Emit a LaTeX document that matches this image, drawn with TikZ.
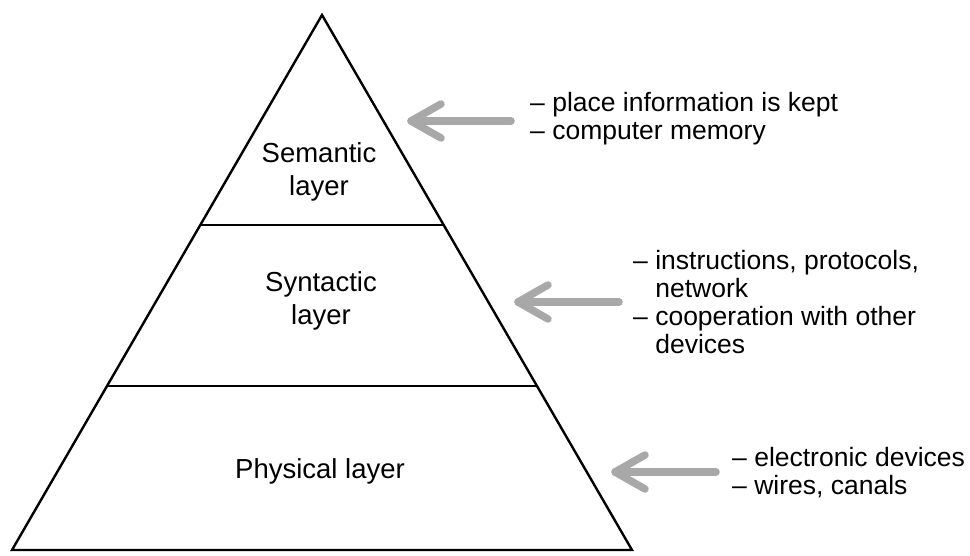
\documentclass[tikz,border=0pt]{standalone}
\usepackage{fontspec}
\setmainfont{Liberation Sans}
\usetikzlibrary{calc}
\definecolor{arrowgray}{HTML}{A8A8A8}
\begin{document}
\begin{tikzpicture}[x=1pt,y=-1pt,
  edge/.style={line width=2.4pt,line join=miter},
  layerlabel/.style={inner sep=0pt,align=center,anchor=base,font=\fontsize{27.5}{33}\selectfont},
  note/.style={inner sep=0pt,align=left,anchor=base west,font=\fontsize{26.5}{28}\selectfont},
  pointer/.style={draw=arrowgray,line width=7.5pt,line cap=round,line join=round}]
\useasboundingbox (0,0) rectangle (970,556);
% pyramid
\coordinate (apex) at (322,15);
\coordinate (bl) at (12,550);
\coordinate (br) at (632,550);
\draw[edge] (bl) -- (apex) -- (br) -- cycle;
\coordinate (l1a) at ($(apex)!0.3925!(bl)$);
\coordinate (l1b) at ($(apex)!0.3925!(br)$);
\coordinate (l2a) at ($(apex)!0.6935!(bl)$);
\coordinate (l2b) at ($(apex)!0.6935!(br)$);
\draw[edge] (l1a) -- (l1b);
\draw[edge] (l2a) -- (l2b);
% layer labels (base = baseline of last line)
\node[layerlabel] (sem) at (319,196) {Semantic\\layer};
\node[layerlabel] (syn) at (321,325) {Syntactic\\layer};
\node[layerlabel] (phy) at (320,478) {Physical layer};
% notes
\node[note] (n1) at (530,140) {– place information is kept\\– computer memory};
\node[note] (n2) at (633,353) {– instructions, protocols,\\\phantom{– }network\\– cooperation with other\\\phantom{– }devices};
\node[note] (n3) at (732,494) {– electronic devices\\– wires, canals};
% pointers
\coordinate (t1) at (511,121); \coordinate (h1) at (411,121);
\coordinate (a1) at (441,104); \coordinate (b1) at (441,138);
\draw[pointer] (t1) -- (h1);
\draw[pointer] (a1) -- (h1) -- (b1);
\coordinate (t2) at (619,302); \coordinate (h2) at (518,302);
\coordinate (a2) at (548,285); \coordinate (b2) at (548,319);
\draw[pointer] (t2) -- (h2);
\draw[pointer] (a2) -- (h2) -- (b2);
\coordinate (t3) at (716,472); \coordinate (h3) at (615,472);
\coordinate (a3) at (645,455); \coordinate (b3) at (645,489);
\draw[pointer] (t3) -- (h3);
\draw[pointer] (a3) -- (h3) -- (b3);
\end{tikzpicture}
\end{document}
